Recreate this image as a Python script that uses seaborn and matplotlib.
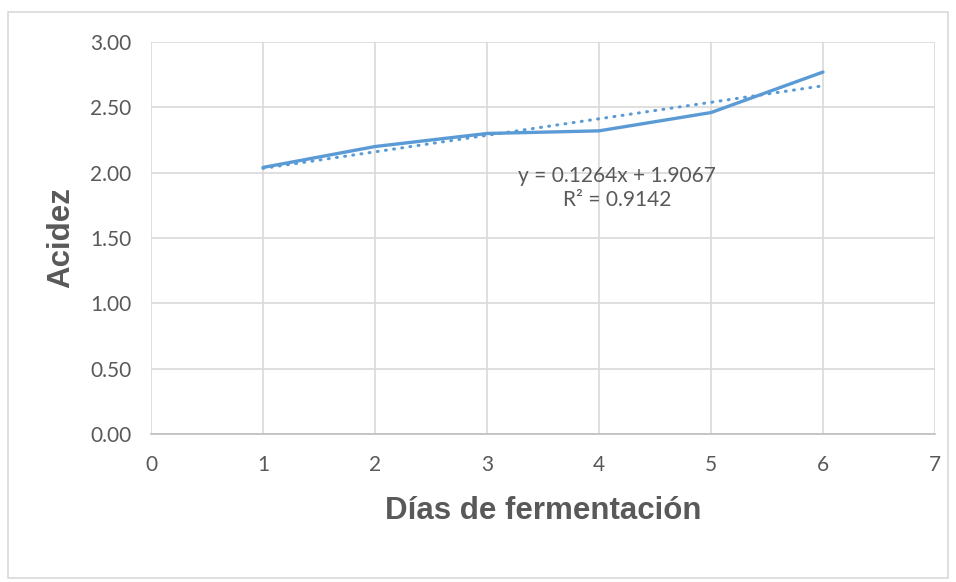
"""
Acidez vs días de fermentación, with linear trendline (Excel style).
"""
import matplotlib
matplotlib.use("Agg")
import matplotlib.pyplot as plt
import seaborn as sns
import numpy as np
import pandas as pd
from matplotlib.patches import Rectangle

DAYS = [1, 2, 3, 4, 5, 6]
ACIDEZ = [2.04, 2.20, 2.30, 2.32, 2.46, 2.77]
SLOPE = 0.1264
INTERCEPT = 1.9067
R2 = 0.9142
X_TICKS = [0, 1, 2, 3, 4, 5, 6, 7]
Y_TICKS = [0.0, 0.5, 1.0, 1.5, 2.0, 2.5, 3.0]

BLUE = "#5b9bd5"
GRID = "#d9d9d9"
TEXT = "#595959"

df = pd.DataFrame({"dias": DAYS, "acidez": ACIDEZ})

sns.set_theme(style="whitegrid")
plt.rcParams["font.family"] = ["Lato", "DejaVu Sans"]

fig = plt.figure(figsize=(9.56, 5.82), dpi=100)
ax = fig.add_axes([151 / 956, 148 / 582, 784 / 956, 392 / 582])

sns.lineplot(data=df, x="dias", y="acidez", color=BLUE, linewidth=2.4, ax=ax)

trend_x = np.array([DAYS[0], DAYS[-1]])
ax.plot(trend_x, SLOPE * trend_x + INTERCEPT, color=BLUE, linewidth=2.2,
        linestyle=(0, (0.3, 2.4)), dash_capstyle="round")

ax.text(4.16, 1.885, f"y = {SLOPE}x + {INTERCEPT}\nR² = {R2}", ha="center", va="center",
        fontsize=15, color=TEXT, linespacing=1.25)

ax.set_xlim(0, 7)
ax.set_ylim(0, 3)
ax.set_xticks(X_TICKS)
ax.set_yticks(Y_TICKS)
ax.set_yticklabels([f"{v:.2f}" for v in Y_TICKS])
ax.grid(True, color=GRID, linewidth=1.2)
ax.set_facecolor("white")
for side in ["left", "top", "right"]:
    ax.spines[side].set_visible(False)
ax.spines["bottom"].set_color("#bfbfbf")
ax.spines["bottom"].set_linewidth(1.2)
ax.tick_params(axis="x", length=0, labelsize=15, colors=TEXT, pad=15)
ax.tick_params(axis="y", length=0, labelsize=15, colors=TEXT, pad=14)

ax.set_xlabel("Días de fermentación", fontsize=22.5, fontweight="bold", color=TEXT,
              family="Liberation Sans", labelpad=15)
ax.set_ylabel("Acidez", fontsize=22.5, fontweight="bold", color=TEXT,
              family="Liberation Sans", labelpad=10)

fig.patches.append(Rectangle((8 / 956, 4 / 582), 940 / 956, 566 / 582,
                             transform=fig.transFigure, fill=False,
                             edgecolor=GRID, linewidth=1.2))

fig.savefig("out.png", dpi=100)
plt.close(fig)
